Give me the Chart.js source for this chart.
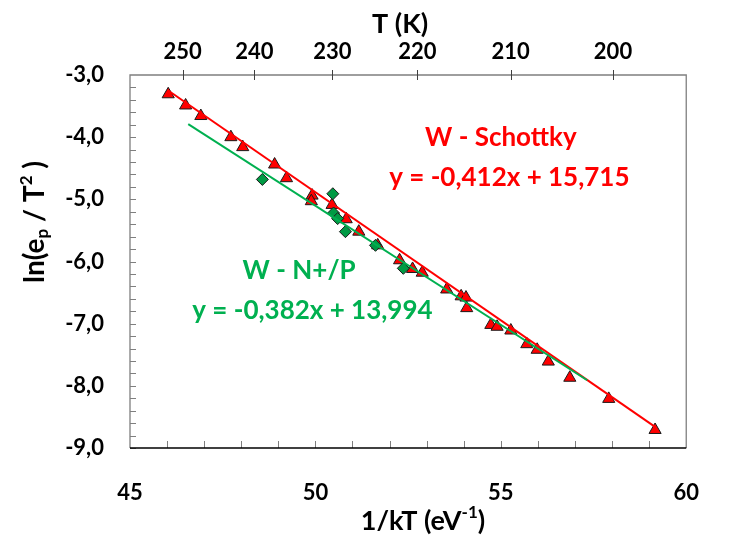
<!DOCTYPE html>
<html>
<head>
<meta charset="utf-8">
<script src="https://cdn.jsdelivr.net/npm/chart.js@4"></script>
<style>
  html, body { margin: 0; padding: 0; background: #fff; }
  #wrap { width: 731px; height: 535px; }
</style>
</head>
<body>
<div id="wrap"><canvas id="arrheniusChart"></canvas></div>
<script>
// W - Schottky (red triangles)
const schottkyX = [46.03, 46.50, 46.91, 47.72, 48.04, 48.90, 49.22, 49.91, 49.89, 50.45, 50.83, 51.17, 51.68, 52.27, 52.62, 52.88, 53.54, 53.93, 54.06, 54.08, 54.73, 54.90, 55.27, 55.70, 55.98, 56.28, 56.86, 57.91, 59.16];
const schottkyY = [-3.31, -3.49, -3.66, -4.00, -4.16, -4.44, -4.66, -4.94, -5.03, -5.09, -5.32, -5.52, -5.74, -5.98, -6.12, -6.18, -6.45, -6.56, -6.58, -6.75, -7.02, -7.05, -7.11, -7.33, -7.42, -7.61, -7.87, -8.21, -8.71];

// W - N+/P (green diamonds)
const nplusX = [48.57, 50.47, 50.49, 50.60, 50.81, 51.62, 52.37];
const nplusY = [-4.68, -4.91, -5.22, -5.31, -5.52, -5.74, -6.11];

// trendline end points
const schottkyFitX = [46.03, 59.16];
const schottkyFitY = [-3.25, -8.66];
const nplusFitX = [46.57, 57.33];
const nplusFitY = [-3.79, -7.91];

// axes
const xTicks = [45, 50, 55, 60];
const yTicks = [-9, -8, -7, -6, -5, -4, -3];
const tempTicks = [250, 240, 230, 220, 210, 200];
const kB = 8.617e-5;

const RED = '#ff0000';
const GREEN = '#00b050';
const FONT = 'Lato, "Open Sans", sans-serif';

function pts(xs, ys) {
    return xs.map((x, i) => ({ x: x, y: ys[i] }));
}

// text with sub/superscripts: parts = [[text, shift]], shift -1 sub, 1 sup
function drawRich(ctx, parts, cx, cy, size, color, rotate) {
    const small = Math.round(size * 0.62);
    let total = 0;
    parts.forEach(p => {
        ctx.font = 'bold ' + (p[1] ? small : size) + 'px ' + FONT;
        total += ctx.measureText(p[0]).width;
    });
    ctx.save();
    ctx.translate(cx, cy);
    if (rotate) ctx.rotate(-Math.PI / 2);
    ctx.fillStyle = color;
    ctx.textBaseline = 'middle';
    ctx.textAlign = 'left';
    let x = -total / 2;
    parts.forEach(p => {
        ctx.font = 'bold ' + (p[1] ? small : size) + 'px ' + FONT;
        const dy = p[1] === 1 ? -size * 0.3 : (p[1] === -1 ? size * 0.28 : 0);
        ctx.fillText(p[0], x, dy);
        x += ctx.measureText(p[0]).width;
    });
    ctx.restore();
}

const framePlugin = {
    id: 'frame',
    beforeDatasetsDraw(chart) {
        const ctx = chart.ctx;
        const a = chart.chartArea;
        const sx = chart.scales.x, sy = chart.scales.y, st = chart.scales.xTop;
        ctx.save();
        ctx.lineWidth = 1.3;
        ctx.strokeStyle = '#7f7f7f';
        ctx.beginPath();
        ctx.moveTo(a.left, a.bottom);
        ctx.lineTo(a.left, a.top);
        ctx.lineTo(a.right, a.top);
        ctx.lineTo(a.right, a.bottom);
        ctx.stroke();
        // minor ticks, left
        ctx.lineWidth = 1;
        ctx.beginPath();
        for (let v = -9; v <= -3.001; v += 0.2) {
            const y = Math.round(sy.getPixelForValue(v)) + 0.5;
            ctx.moveTo(a.left, y);
            ctx.lineTo(a.left + 6, y);
        }
        // bottom ticks
        for (let v = 46; v < 60; v += 1) {
            const x = Math.round(sx.getPixelForValue(v)) + 0.5;
            ctx.moveTo(x, a.bottom);
            ctx.lineTo(x, a.bottom - 7);
        }
        ctx.stroke();
        // top temperature ticks
        ctx.strokeStyle = '#404040';
        ctx.beginPath();
        tempTicks.forEach(t => {
            const x = Math.round(st.getPixelForValue(1 / (kB * t))) + 0.5;
            ctx.moveTo(x, a.top - 5);
            ctx.lineTo(x, a.top + 5);
        });
        ctx.stroke();
        // bottom axis
        ctx.strokeStyle = '#000';
        ctx.lineWidth = 1.5;
        ctx.beginPath();
        ctx.moveTo(a.left, a.bottom);
        ctx.lineTo(a.right, a.bottom);
        ctx.stroke();
        ctx.restore();
    },
    afterDraw(chart) {
        const ctx = chart.ctx;
        const sx = chart.scales.x, sy = chart.scales.y;
        drawRich(ctx, [['T (K)', 0]], 400, 24, 27, '#000');
        drawRich(ctx, [['1/kT (eV', 0], ['-1', 1], [')', 0]], 423, 521, 27, '#000');
        drawRich(ctx, [['ln(e', 0], ['p', -1], [' / T', 0], ['2', 1], [' )', 0]], 35, 222, 28, '#000', true);
        // equations
        drawRich(ctx, [['W - Schottky', 0]], sx.getPixelForValue(55.0), sy.getPixelForValue(-4.0), 26, RED);
        drawRich(ctx, [['y = -0,412x + 15,715', 0]], sx.getPixelForValue(55.23), sy.getPixelForValue(-4.65), 26, RED);
        drawRich(ctx, [['W - N+/P', 0]], sx.getPixelForValue(49.56), sy.getPixelForValue(-6.15), 26, GREEN);
        drawRich(ctx, [['y = -0,382x + 13,994', 0]], sx.getPixelForValue(49.92), sy.getPixelForValue(-6.79), 26, GREEN);
    }
};

new Chart(document.getElementById('arrheniusChart'), {
    type: 'scatter',
    data: {
        datasets: [
            {
                label: 'W - N+/P fit',
                data: pts(nplusFitX, nplusFitY),
                showLine: true,
                borderColor: GREEN,
                borderWidth: 2,
                pointRadius: 0,
                order: 0,
            },
            {
                label: 'W - Schottky fit',
                data: pts(schottkyFitX, schottkyFitY),
                showLine: true,
                borderColor: RED,
                borderWidth: 2,
                pointRadius: 0,
                order: 1,
            },
            {
                label: 'W - N+/P',
                data: pts(nplusX, nplusY),
                pointStyle: 'rectRot',
                pointRadius: 6,
                backgroundColor: '#009a44',
                borderColor: '#1a1a1a',
                borderWidth: 1,
                order: 2,
            },
            {
                label: 'W - Schottky',
                data: pts(schottkyX, schottkyY),
                pointStyle: 'triangle',
                pointRadius: 7,
                backgroundColor: RED,
                borderColor: '#1a1a1a',
                borderWidth: 1,
                order: 3,
            }
        ]
    },
    options: {
        responsive: true,
        maintainAspectRatio: false,
        animation: false,
        layout: { padding: { right: 16 } },
        plugins: {
            legend: { display: false },
            tooltip: { enabled: false },
        },
        scales: {
            x: {
                type: 'linear',
                position: 'bottom',
                min: 45,
                max: 60,
                afterBuildTicks(s) { s.ticks = xTicks.map(v => ({ value: v })); },
                afterFit(s) { s.height = 87; },
                grid: { display: false, drawTicks: false },
                border: { display: false },
                ticks: {
                    autoSkip: false,
                    maxRotation: 0,
                    padding: 32,
                    color: '#000',
                    font: { family: FONT, size: 22, weight: 'bold' },
                }
            },
            xTop: {
                type: 'linear',
                position: 'top',
                min: 45,
                max: 60,
                afterBuildTicks(s) { s.ticks = tempTicks.map(t => ({ value: 1 / (kB * t) })); },
                afterFit(s) { s.height = 75; },
                grid: { display: false, drawTicks: false },
                border: { display: false },
                ticks: {
                    autoSkip: false,
                    maxRotation: 0,
                    padding: 10,
                    color: '#000',
                    font: { family: FONT, size: 22, weight: 'bold' },
                    callback: (v, i) => String(tempTicks[i]),
                }
            },
            y: {
                type: 'linear',
                min: -9,
                max: -3,
                afterBuildTicks(s) { s.ticks = yTicks.map(v => ({ value: v })); },
                afterFit(s) { s.width = 130; },
                grid: { display: false, drawTicks: false },
                border: { display: false },
                ticks: {
                    padding: 26,
                    color: '#000',
                    font: { family: FONT, size: 22, weight: 'bold' },
                    callback: v => v.toFixed(1).replace('.', ','),
                }
            }
        }
    },
    plugins: [framePlugin]
});
</script>
</body>
</html>
